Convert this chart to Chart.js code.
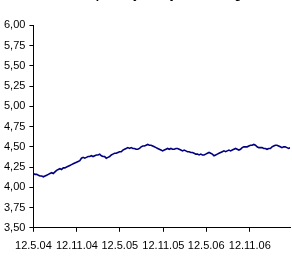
<!DOCTYPE html>
<html>
<head>
    <title>Rendite</title>
    <script src="https://cdn.jsdelivr.net/npm/chart.js"></script>
    <style>
        html, body { margin: 0; padding: 0; background: #fff; overflow: hidden; }
        #wrap { position: relative; width: 292px; height: 282px; margin-top: -20px; }
    </style>
</head>
<body>
    <div id="wrap"><canvas id="chart"></canvas></div>

    <script>
// weekly values, first point on 12.5.04
const weekStep = 7;
const yields = [
    4.17, 4.16, 4.16, 4.15, 4.14,
    4.14, 4.13, 4.14, 4.15, 4.16, 4.17,
    4.18, 4.17, 4.19, 4.21, 4.22, 4.23, 4.22, 4.24,
    4.24, 4.25, 4.26, 4.27, 4.28, 4.29,
    4.30, 4.31, 4.32, 4.33, 4.36, 4.37,
    4.36, 4.37, 4.38, 4.38, 4.39, 4.38, 4.39,
    4.40, 4.40, 4.41, 4.39, 4.38, 4.38, 4.36, 4.37,
    4.38, 4.40, 4.41, 4.42, 4.42, 4.43, 4.44, 4.44,
    4.46, 4.47, 4.48, 4.49, 4.48, 4.49, 4.48, 4.48, 4.47, 4.47,
    4.48, 4.50, 4.51, 4.51, 4.52, 4.53, 4.52,
    4.52, 4.51, 4.50, 4.49, 4.48, 4.47, 4.46, 4.45,
    4.46, 4.47, 4.48, 4.47, 4.48, 4.47, 4.47, 4.48, 4.48,
    4.47, 4.46, 4.45, 4.46, 4.45, 4.44, 4.44, 4.43,
    4.43, 4.42, 4.41, 4.41, 4.40, 4.41, 4.40, 4.40,
    4.41, 4.42, 4.43, 4.42, 4.41, 4.39, 4.40,
    4.41, 4.42, 4.43, 4.44, 4.45, 4.44, 4.45, 4.46, 4.45, 4.46,
    4.47, 4.48, 4.47, 4.46, 4.47, 4.49, 4.50, 4.50, 4.50,
    4.51, 4.52, 4.52, 4.53, 4.52, 4.50, 4.49, 4.49, 4.49,
    4.48, 4.48, 4.47, 4.48, 4.48, 4.50, 4.51, 4.52, 4.52,
    4.51, 4.50, 4.49, 4.50, 4.50, 4.49, 4.48, 4.49
];

// x ticks, in days after 12.5.04
const tickDays = [0, 184, 365, 549, 730, 914];
const tickLabels = ['12.5.04', '12.11.04', '12.5.05', '12.11.05', '12.5.06', '12.11.06'];

const points = yields.map((v, i) => ({ x: i * weekStep, y: v }));

Chart.defaults.font.family = '"Liberation Sans", Arial, sans-serif';
Chart.defaults.font.size = 11;
Chart.defaults.color = '#000';

new Chart(document.getElementById('chart').getContext('2d'), {
    type: 'line',
    data: {
        datasets: [{
            data: points,
            borderColor: '#000080',
            borderWidth: 1.6,
            pointRadius: 0,
            tension: 0,
            fill: false
        }]
    },
    options: {
        responsive: true,
        maintainAspectRatio: false,
        animation: false,
        layout: { padding: { left: 0, right: 2, top: 0, bottom: 1 } },
        plugins: {
            legend: { display: false },
            tooltip: { enabled: false },
            title: {
                display: true,
                text: 'Rendite p.a. 10y vs. 5y, Jahresavg',
                font: { size: 12, weight: 'bold' },
                padding: { top: 7, bottom: 24 }
            }
        },
        scales: {
            x: {
                type: 'linear',
                min: 0,
                max: 1084,
                afterBuildTicks: axis => { axis.ticks = tickDays.map(d => ({ value: d })); },
                ticks: {
                    autoSkip: false,
                    maxRotation: 0,
                    padding: 8,
                    callback: value => tickLabels[tickDays.indexOf(value)]
                },
                grid: { drawOnChartArea: false, drawTicks: true, tickLength: 4, color: '#000' },
                border: { color: '#000', width: 1 }
            },
            y: {
                min: 3.5,
                max: 6,
                ticks: {
                    stepSize: 0.25,
                    padding: 4,
                    callback: value => value.toFixed(2).replace('.', ',')
                },
                grid: { drawOnChartArea: false, drawTicks: true, tickLength: 4, color: '#000' },
                border: { color: '#000', width: 1 }
            }
        }
    }
});
    </script>
</body>
</html>
